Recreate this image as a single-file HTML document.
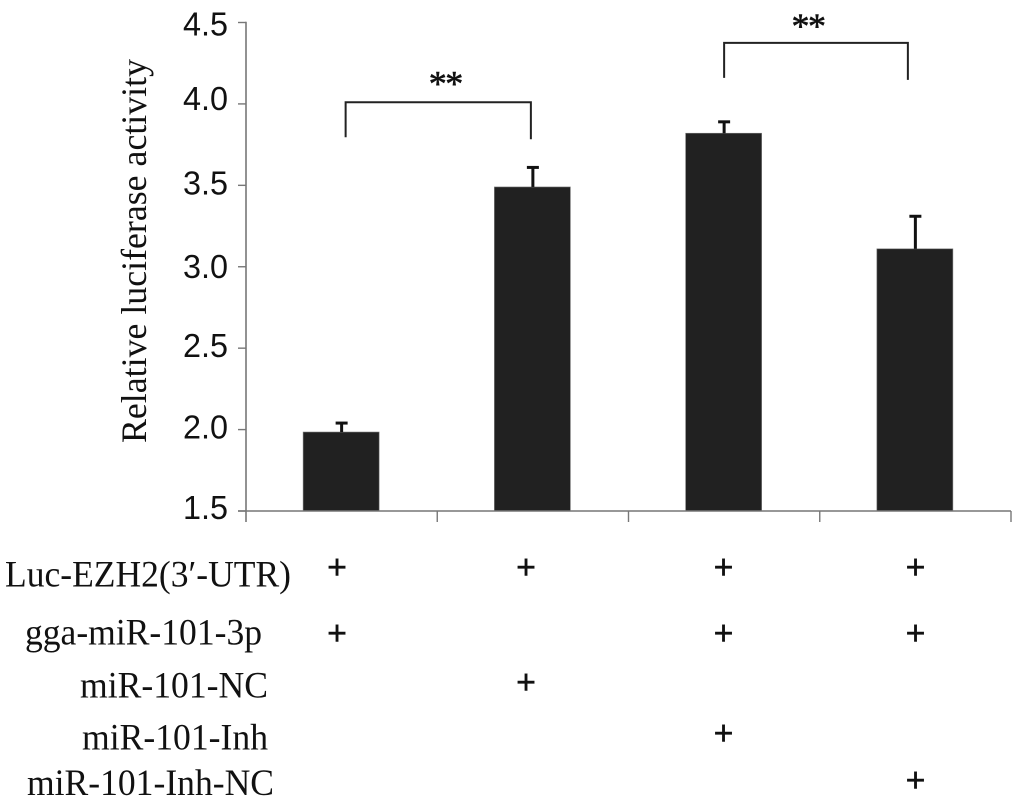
<!DOCTYPE html>
<html lang="en">
<head>
<meta charset="utf-8">
<title>Relative luciferase activity</title>
<style>
html,body{margin:0;padding:0;background:#fff;width:1024px;height:805px;overflow:hidden}
svg{display:block}
.tick{font-family:"Liberation Sans",sans-serif;font-size:33px;fill:#111}
.label{font-family:"Liberation Serif",serif;fill:#111}
.plus{font-family:"Liberation Sans",sans-serif;font-size:34px;fill:#111;stroke:#111;stroke-width:.4}
.star{font-family:"Liberation Serif",serif;font-size:36px;fill:#111;stroke:#111;stroke-width:.6}
</style>
</head>
<body>
<svg id="chart" width="1024" height="805" viewBox="0 0 1024 805" xmlns="http://www.w3.org/2000/svg">
<rect x="0" y="0" width="1024" height="805" fill="#fff"/>
<text class="label" font-size="36" textLength="384" lengthAdjust="spacingAndGlyphs" transform="translate(146,443) rotate(-90)">Relative luciferase activity</text>
<g>
<text class="label" font-size="37" x="5" y="586.5" textLength="286" lengthAdjust="spacingAndGlyphs">Luc-EZH2(3′-UTR)</text>
<text class="label" font-size="37" x="25" y="644.5" textLength="237" lengthAdjust="spacingAndGlyphs">gga-miR-101-3p</text>
<text class="label" font-size="37" x="80" y="697.5" textLength="188" lengthAdjust="spacingAndGlyphs">miR-101-NC</text>
<text class="label" font-size="37" x="82" y="749.5" textLength="186" lengthAdjust="spacingAndGlyphs">miR-101-Inh</text>
<text class="label" font-size="37" x="27" y="795" textLength="247" lengthAdjust="spacingAndGlyphs">miR-101-Inh-NC</text>
</g>
<script>
var categories = ['Group 1', 'Group 2', 'Group 3', 'Group 4'];
var seriesValues = [1.985, 3.49, 3.82, 3.11];
var errorValues = [0.055, 0.12, 0.07, 0.20];
var yTickLabels = ['1.5', '2.0', '2.5', '3.0', '3.5', '4.0', '4.5'];
var rowPlus = [
  [1, 1, 1, 1],
  [1, 0, 1, 1],
  [0, 1, 0, 0],
  [0, 0, 1, 0],
  [0, 0, 0, 1]
];
var significance = [
  {from: 0, to: 1, level: 4.01, label: '**'},
  {from: 2, to: 3, level: 4.375, label: '**'}
];

var svg = document.getElementById('chart');
var NS = 'http://www.w3.org/2000/svg';
var yMin = 1.5, yMax = 4.5, yBottom = 511, yTop = 22.5;
var xLeft = 246, xRight = 1011;
var rowY = [567, 633, 682, 733, 780];
var plusX = [337, 526, 723.5, 915.5];
var tickLabelNudge = [-2, -1, -1, 1, -1, -4, 3];

function yScale(v) { return yBottom - (v - yMin) / (yMax - yMin) * (yBottom - yTop); }
function band() { return (xRight - xLeft) / categories.length; }
function xCenter(i) { return xLeft + band() * (i + 0.5); }

function make(tag, attrs, text) {
  var el = document.createElementNS(NS, tag);
  for (var k in attrs) { el.setAttribute(k, attrs[k]); }
  if (text !== undefined) { el.textContent = text; }
  svg.appendChild(el);
  return el;
}
var el;

categories.forEach(function (c, i) {
  var cx = xCenter(i) - 0.5;
  var top = yScale(seriesValues[i]);
  el = make('rect', {x: cx - 38, y: top, width: 76, height: yBottom - top, fill: '#212121', stroke: '#777', 'stroke-width': 0.6});
  
  
  var capY = yScale(seriesValues[i] + errorValues[i]);
  el = make('line', {x1: cx + 0.5, x2: cx + 0.5, y1: top, y2: capY, stroke: '#111', 'stroke-width': 3});
  
  
  el = make('line', {x1: cx - 5.5, x2: cx + 6.5, y1: capY, y2: capY, stroke: '#111', 'stroke-width': 3});
  
  
});

el = make('line', {x1: xLeft, x2: xLeft, y1: yTop - 0.8, y2: 522, stroke: '#777', 'stroke-width': 1.6});


el = make('line', {x1: 238, x2: xRight, y1: yBottom, y2: yBottom, stroke: '#777', 'stroke-width': 1.6});



for (var b = 1; b <= categories.length; b++) {
  var tx = xLeft + band() * b;
  el = make('line', {x1: tx, x2: tx, y1: yBottom, y2: 522, stroke: '#777', 'stroke-width': 1.4});
  
  
}

yTickLabels.forEach(function (t, i) {
  var y = yScale(parseFloat(t));
  el = make('line', {x1: 238, x2: xLeft, y1: y, y2: y, stroke: '#777', 'stroke-width': 1.4});
  
  
  el = make('text', {'class': 'tick', x: 183, y: y + 10 + tickLabelNudge[i], textLength: 45, lengthAdjust: 'spacingAndGlyphs'}, t);
  
  
});

significance.forEach(function (s) {
  var x1, x2, starX, starUp;
  if (s.from === 2) { x1 = xCenter(s.from); x2 = xCenter(s.to) - 7.5; starX = (x1 + x2) / 2 - 8; starUp = 5; }
  else { x1 = xCenter(s.from) + 4; x2 = xCenter(s.to) - 2; starX = (x1 + x2) / 2 + 7; starUp = 7; }
  var y = yScale(s.level);
  el = make('path', {d: 'M' + x1 + ' ' + (y + 35) + 'V' + y + 'H' + x2 + 'V' + (y + 37), fill: 'none', stroke: '#222', 'stroke-width': 2});
  
  
  el = make('text', {'class': 'star', x: starX, y: y - starUp, 'text-anchor': 'middle', 'letter-spacing': '-1.5'}, s.label);
  
  
});

rowPlus.forEach(function (row, r) {
  row.forEach(function (on, c) {
    if (!on) { return; }
    el = make('text', {'class': 'plus', x: plusX[c], y: rowY[r] + 11.5, 'text-anchor': 'middle'}, '+');
    
    
  });
});
</script>
</svg>
</body>
</html>
